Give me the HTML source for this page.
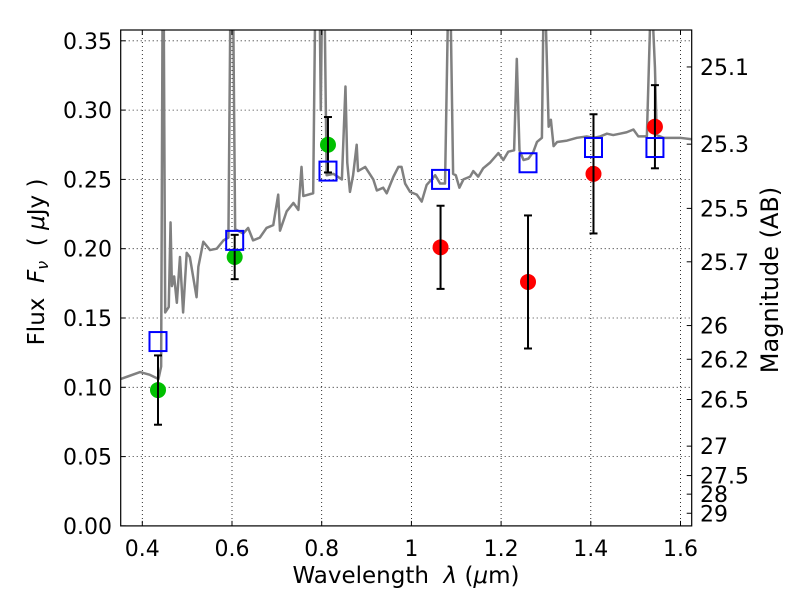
<!DOCTYPE html>
<html><head><meta charset="utf-8"><style>
html,body{margin:0;padding:0;background:#fff}
svg{display:block;font-family:"DejaVu Sans","Liberation Sans",sans-serif}
</style></head><body>
<svg id="chart" width="800" height="600" viewBox="0 0 800 600" xmlns="http://www.w3.org/2000/svg">
<defs><clipPath id="clip"><rect x="120.7" y="30" width="571" height="496"/></clipPath></defs>
<rect width="800" height="600" fill="#fff"/>
<g id="grid"></g>
<g id="spec" clip-path="url(#clip)"></g>
<g id="marks"></g>
<g id="axes"></g>
<text x="406" y="583" font-size="23" text-anchor="middle" xml:space="preserve">Wavelength  <tspan font-style="italic">λ</tspan> (<tspan font-style="italic">μ</tspan>m)</text>
<text transform="translate(44,262) rotate(-90)" font-size="23" text-anchor="middle" xml:space="preserve">Flux  <tspan font-style="italic">F</tspan><tspan font-style="italic" font-size="16" dy="4">ν</tspan><tspan dy="-4">  ( </tspan><tspan font-style="italic">μ</tspan>Jy )</text>
<text transform="translate(778,280) rotate(-90)" font-size="24" text-anchor="middle">Magnitude (AB)</text>
</svg>
<script>
const specLam=[0.352,0.395,0.417,0.436,0.442,0.445,0.448,0.451,0.459,0.463,0.466,0.471,0.477,0.484,0.491,0.499,0.506,0.521,0.525,0.536,0.551,0.566,0.581,0.592,0.596,0.603,0.607,0.625,0.636,0.647,0.662,0.677,0.692,0.703,0.707,0.722,0.737,0.748,0.755,0.759,0.781,0.785,0.796,0.798,0.800,0.807,0.811,0.826,0.845,0.853,0.857,0.863,0.870,0.878,0.881,0.897,0.915,0.923,0.937,0.945,0.960,0.971,0.978,0.986,0.997,1.012,1.023,1.034,1.045,1.053,1.064,1.075,1.081,1.088,1.093,1.099,1.107,1.116,1.131,1.138,1.149,1.160,1.175,1.194,1.205,1.216,1.229,1.235,1.241,1.250,1.261,1.272,1.280,1.291,1.294,1.300,1.306,1.311,1.317,1.325,1.347,1.369,1.391,1.406,1.421,1.436,1.450,1.465,1.480,1.495,1.506,1.525,1.532,1.539,1.543,1.547,1.562,1.584,1.599,1.625];
const specFlux=[0.106,0.111,0.109,0.106,0.115,0.36,0.36,0.154,0.158,0.219,0.173,0.180,0.161,0.194,0.154,0.197,0.194,0.165,0.187,0.205,0.199,0.200,0.206,0.208,0.36,0.36,0.214,0.211,0.215,0.206,0.208,0.215,0.217,0.239,0.213,0.227,0.233,0.228,0.259,0.238,0.240,0.36,0.36,0.30,0.36,0.36,0.253,0.254,0.250,0.317,0.262,0.241,0.253,0.275,0.256,0.259,0.250,0.242,0.244,0.240,0.252,0.259,0.259,0.247,0.241,0.239,0.234,0.246,0.250,0.253,0.247,0.247,0.36,0.36,0.254,0.253,0.244,0.250,0.252,0.256,0.252,0.258,0.262,0.269,0.264,0.270,0.271,0.337,0.271,0.264,0.265,0.270,0.277,0.280,0.36,0.36,0.288,0.293,0.274,0.277,0.278,0.280,0.281,0.280,0.281,0.283,0.282,0.283,0.284,0.286,0.281,0.281,0.36,0.36,0.331,0.282,0.280,0.280,0.280,0.279];
const greenLam=[0.435,0.606,0.814];
const greenFlux=[0.098,0.194,0.275];
const greenErr=[0.025,0.016,0.020];
const redLam=[1.065,1.26,1.406,1.543];
const redFlux=[0.201,0.176,0.254,0.288];
const redErr=[0.030,0.048,0.043,0.030];
const boxLam=[0.435,0.606,0.814,1.065,1.26,1.406,1.543];
const boxFlux=[0.133,0.206,0.256,0.250,0.262,0.273,0.273];
const xTicks=[0.4,0.6,0.8,1.0,1.2,1.4,1.6];
const xTickLabels=["0.4","0.6","0.8","1","1.2","1.4","1.6"];
const yTicks=[0,0.05,0.10,0.15,0.20,0.25,0.30,0.35];
const yTickLabels=["0.00","0.05","0.10","0.15","0.20","0.25","0.30","0.35"];
const magTicks=[25.1,25.3,25.5,25.7,26,26.2,26.5,27,27.5,28,29];

const L=120.7,R=691.7,T=30,B=525.9;
const x=v=>142.3+(v-0.4)*448.5;
const y=v=>B-v*1386;
const NS="http://www.w3.org/2000/svg";
function mk(tag,parent,attrs){const e=document.createElementNS(NS,tag);for(const k in attrs)e.setAttribute(k,attrs[k]);parent.appendChild(e);return e;}
const grid=document.getElementById('grid'),spec=document.getElementById('spec'),marks=document.getElementById('marks'),axes=document.getElementById('axes');
xTicks.forEach((t,i)=>{
  const g=mk('line',grid,{x1:x(t),x2:x(t),y1:T,y2:B,stroke:'#000','stroke-width':0.8,'stroke-dasharray':'1,3'});
  
  
  mk('line',axes,{x1:x(t),x2:x(t),y1:B,y2:B-5,stroke:'#000','stroke-width':1});
  mk('line',axes,{x1:x(t),x2:x(t),y1:T,y2:T+5,stroke:'#000','stroke-width':1});
  const lb=mk('text',axes,{x:x(t),y:556,'font-size':22,'text-anchor':'middle'});
  lb.textContent=xTickLabels[i];
  
  
});
yTicks.forEach((t,i)=>{
  const g=mk('line',grid,{x1:L,x2:R,y1:y(t),y2:y(t),stroke:'#000','stroke-width':0.8,'stroke-dasharray':'1,3'});
  
  
  mk('line',axes,{x1:L,x2:L+5,y1:y(t),y2:y(t),stroke:'#000','stroke-width':1});
  const lb=mk('text',axes,{x:112,y:y(t)+8,'font-size':22,'text-anchor':'end'});
  lb.textContent=yTickLabels[i];
  
  
});
magTicks.forEach(m=>{
  const f=Math.pow(10,(23.9-m)/2.5);
  mk('line',axes,{x1:R,x2:R-5,y1:y(f),y2:y(f),stroke:'#000','stroke-width':1});
  const lb=mk('text',axes,{x:700,y:y(f)+8,'font-size':22});
  lb.textContent=String(m);
  
  
});
const pl=mk('polyline',spec,{points:specLam.map((l,i)=>x(l)+','+y(specFlux[i])).join(' '),fill:'none',stroke:'#808080','stroke-width':2.5,'stroke-linejoin':'round'});


function errbar(l,f,e){
  mk('line',marks,{x1:x(l),x2:x(l),y1:y(f-e),y2:y(f+e),stroke:'#000','stroke-width':2});
  mk('line',marks,{x1:x(l)-4,x2:x(l)+4,y1:y(f-e),y2:y(f-e),stroke:'#000','stroke-width':2});
  mk('line',marks,{x1:x(l)-4,x2:x(l)+4,y1:y(f+e),y2:y(f+e),stroke:'#000','stroke-width':2});
}
greenLam.forEach((l,i)=>{
  const c=mk('circle',marks,{cx:x(l),cy:y(greenFlux[i]),r:8,fill:'#00c000'});
  
  
  errbar(l,greenFlux[i],greenErr[i]);
});
redLam.forEach((l,i)=>{
  const c=mk('circle',marks,{cx:x(l),cy:y(redFlux[i]),r:8,fill:'#ff0000'});
  
  
  errbar(l,redFlux[i],redErr[i]);
});
boxLam.forEach((l,i)=>{
  const s=mk('rect',marks,{x:x(l)-8.5,y:y(boxFlux[i])-9.5,width:17,height:19,fill:'none',stroke:'#0000ff','stroke-width':2});
  
  
});
const fr=mk('rect',axes,{x:L,y:T,width:R-L,height:B-T,fill:'none',stroke:'#000','stroke-width':1.2});


</script>
</body></html>
